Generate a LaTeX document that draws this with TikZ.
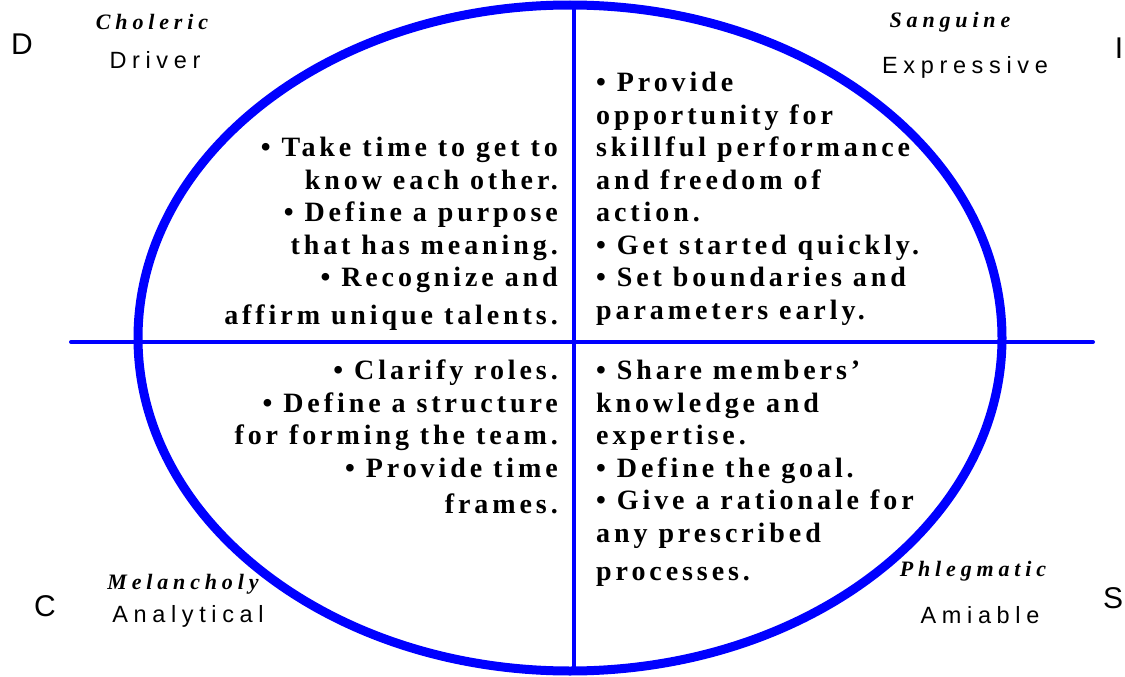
\documentclass[tikz,border=0pt]{standalone}
\usepackage{fontspec}
\setmainfont{Liberation Serif}
\newfontfamily\quadfont[LetterSpace=14]{Liberation Serif}
\newfontfamily\temperfont[LetterSpace=22]{Liberation Serif}
\newfontfamily\rolefont[LetterSpace=24]{Liberation Sans}
\newfontfamily\letterfont{Liberation Sans}
\definecolor{discblue}{RGB}{0,0,255}

\begin{document}
\begin{tikzpicture}[x=1pt, y=-1pt, inner sep=0pt,
                    axis/.style={draw=discblue, line width=4pt, line cap=round},
                    quad text/.style={font=\quadfont\bfseries\fontsize{28}{32.5}\selectfont},
                    temper/.style={font=\temperfont\bfseries\itshape\fontsize{22}{26}\selectfont},
                    role/.style={font=\rolefont\fontsize{23.5}{27}\selectfont},
                    corner/.style={font=\letterfont\fontsize{30}{34}\selectfont}]
    \useasboundingbox (0,0) rectangle (1125,677);

    \coordinate (top)    at (574,6);
    \coordinate (bottom) at (574,670);
    \coordinate (left)   at (71,342);
    \coordinate (right)  at (1093,342);
    \coordinate (centre) at (570,338);

    \draw[axis] (left) -- (right);
    \draw[axis] (top) -- (bottom);
    \draw[discblue, line width=9pt] (centre) ellipse [x radius=432pt, y radius=333pt];

    % corner letters
    \node[corner] (d) at (22,44)   {D};
    \node[corner] (i) at (1119,48) {I};
    \node[corner] (c) at (45,606)  {C};
    \node[corner] (s) at (1113,598) {S};

    % temperaments and styles
    \node[temper] (choleric)   at (152,22)  {Choleric};
    \node[role]   (driver)     at (155,60)  {Driver};
    \node[temper] (sanguine)   at (950,22)  {Sanguine};
    \node[role]   (expressive) at (965,67)  {Expressive};
    \node[temper] (melancholy) at (183,584) {Melancholy};
    \node[role]   (analytical) at (188,616) {Analytical};
    \node[temper] (phlegmatic) at (973,571) {Phlegmatic};
    \node[role]   (amiable)    at (980,615) {Amiable};

    % quadrant texts
    \node[quad text, align=right, anchor=north east] (dtext) at (558,137)
        {• Take time to get to\\know each other.\\• Define a purpose\\that has meaning.\\• Recognize and\\[5pt]affirm unique talents.};
    \node[quad text, align=left, anchor=north west] (itext) at (596,72)
        {• Provide\\opportunity for\\skillful performance\\and freedom of\\action.\\• Get started quickly.\\• Set boundaries and\\parameters early.};
    \node[quad text, align=right, anchor=north east] (ctext) at (558,360)
        {• Clarify roles.\\• Define a structure\\for forming the team.\\• Provide time\\[4pt]frames.};
    \node[quad text, align=left, anchor=north west] (stext) at (596,360)
        {• Share members’\\knowledge and\\expertise.\\• Define the goal.\\• Give a rationale for\\any prescribed\\[6pt]processes.};
\end{tikzpicture}
\end{document}
